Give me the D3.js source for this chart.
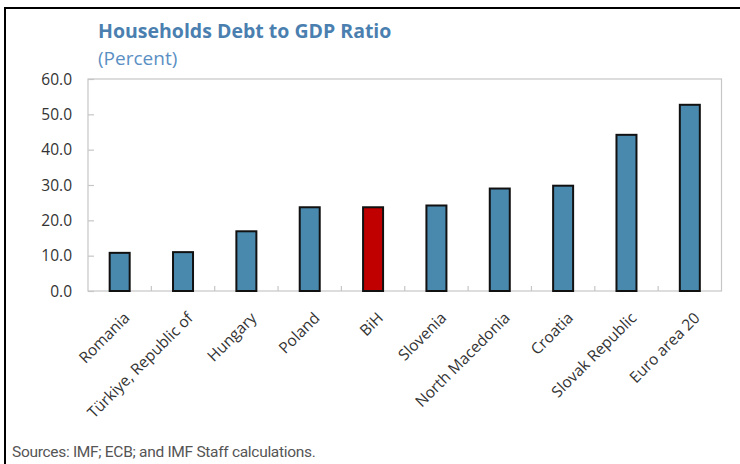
<!DOCTYPE html>
<html><head><meta charset="utf-8">
<script src="https://cdn.jsdelivr.net/npm/d3@7"></script>
<style>body{margin:0;background:#fff}svg{display:block}</style>
</head><body>
<svg id="c" width="740" height="464"></svg>
<script>
const categories = ["Romania","Türkiye, Republic of","Hungary","Poland","BiH","Slovenia","North Macedonia","Croatia","Slovak Republic","Euro area 20"];
const values = [10.8, 11.0, 16.9, 23.7, 23.7, 24.2, 29.0, 29.8, 44.2, 52.7];
const highlight = ["BiH"];
const yTicks = [0,10,20,30,40,50,60];

const svg = d3.select("#c");
const L = 88, R = 721.5, T = 79, B = 291;

// outer frame (top and left)
svg.append("line").attr("x1",5).attr("x2",740).attr("y1",8).attr("y2",8).attr("stroke","#000").attr("stroke-width",2);
svg.append("line").attr("x1",5).attr("x2",5).attr("y1",7).attr("y2",464).attr("stroke","#000").attr("stroke-width",2);

svg.append("text").attr("x",98).attr("y",38).text("Households Debt to GDP Ratio")
  .attr("font-family","Open Sans").attr("font-weight",700).attr("font-size",19.5).attr("fill","#4a7fb0");
svg.append("text").attr("x",98).attr("y",65).text("(Percent)")
  .attr("font-family","Open Sans").attr("font-size",19).attr("fill","#5b8fc4");

const x = d3.scaleBand().domain(categories).range([L,R]).paddingInner(0).paddingOuter(0);
const y = d3.scaleLinear().domain([0,60]).range([B,T]);

// plot frame
svg.append("rect").attr("x",L).attr("y",T).attr("width",R-L).attr("height",B-T)
  .attr("fill","none").attr("stroke","#c6c6c6").attr("stroke-width",1.2);

// y axis
const ya = svg.append("g").attr("transform",`translate(${L},0)`)
  .call(d3.axisRight(y).tickValues(yTicks).tickSize(6).tickFormat(""));
ya.select(".domain").remove();
ya.selectAll("line").attr("stroke","#c6c6c6").attr("stroke-width",1.2);
svg.append("g").selectAll("text").data(yTicks).join("text")
  .attr("x",72).attr("y",d=>y(d)+5.5).attr("text-anchor","end")
  .attr("font-family","Open Sans").attr("font-size",15.5).attr("fill","#333").text(d=>d.toFixed(1));

// x ticks at band boundaries
const bounds = categories.slice(1).map(c=>x(c));
svg.append("g").selectAll("line").data(bounds).join("line")
  .attr("x1",d=>d).attr("x2",d=>d).attr("y1",B).attr("y2",B-5)
  .attr("stroke","#c6c6c6").attr("stroke-width",1.2);

// bars
const bw = 20;
svg.append("g").selectAll("rect").data(categories).join("rect")
  .attr("x",c=>x(c)+x.bandwidth()/2-bw/2)
  .attr("y",(c,i)=>y(values[i]))
  .attr("width",bw)
  .attr("height",(c,i)=>B-y(values[i]))
  .attr("fill",c=>highlight.includes(c)?"#c00000":"#4a89ae")
  .attr("stroke","#111").attr("stroke-width",2);

// x labels
svg.append("g").selectAll("text").data(categories).join("text")
  .attr("transform",c=>`translate(${x(c)+x.bandwidth()/2+11},${B+28}) rotate(-45)`)
  .attr("text-anchor","end")
  .attr("font-family","Open Sans").attr("font-size",15.5).attr("fill","#333").text(c=>c);

svg.append("text").attr("x",12).attr("y",457).text("Sources: IMF; ECB; and IMF Staff calculations.")
  .attr("font-family","Roboto").attr("font-size",15.5).attr("letter-spacing",-0.3).attr("fill","#555");
</script>
</body></html>
